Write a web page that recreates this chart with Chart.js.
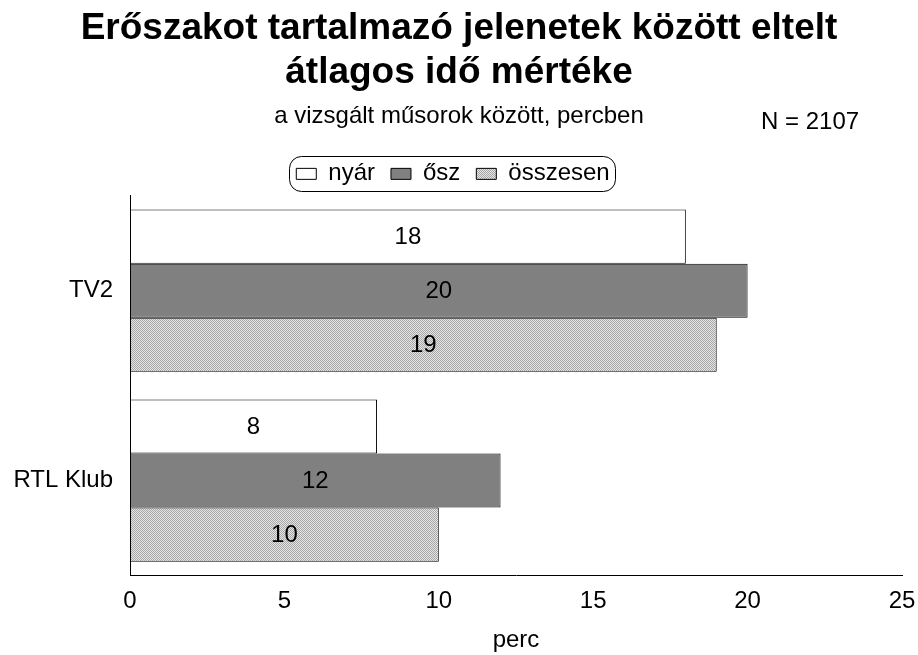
<!DOCTYPE html>
<html>
<head>
<meta charset="utf-8">
<script src="https://cdn.jsdelivr.net/npm/chart.js@4.4.1/dist/chart.umd.min.js"></script>
<style>
  html, body { margin: 0; padding: 0; background: #fff; }
  #wrap { width: 918px; height: 655px; position: relative; }
</style>
</head>
<body>
<div id="wrap"><canvas id="c" width="918" height="655"></canvas></div>
<script>
// Data
const categories = ['TV2', 'RTL Klub'];
const seriesNames = ['nyár', 'ősz', 'összesen'];
const nyar = [18, 8];
const osz = [20, 12];
const osszesen = [19, 10];
const xTicks = [0, 5, 10, 15, 20, 25];

const FONT = '"Liberation Sans", Arial, sans-serif';

// dotted fill used for "összesen"
function dotPattern() {
  const p = document.createElement('canvas');
  p.width = 2; p.height = 2;
  const g = p.getContext('2d');
  g.fillStyle = '#e6e6e6'; g.fillRect(0, 0, 2, 2);
  g.fillStyle = '#a6a6a6'; g.fillRect(0, 0, 1, 1); g.fillRect(1, 1, 1, 1);
  return g.createPattern(p, 'repeat');
}
const ctx = document.getElementById('c').getContext('2d');
const dots = dotPattern();

// legend sits a little left of the canvas centre in the original
const legendShift = {
  id: 'legendShift',
  afterLayout(chart) {
    chart.legend.left -= 6;
    chart.legend.right -= 6;
  }
};

// value labels in the middle of each bar
const barLabels = {
  id: 'barLabels',
  afterDatasetsDraw(chart) {
    const c = chart.ctx;
    c.save();
    c.font = '24px ' + FONT;
    c.fillStyle = '#000';
    c.textAlign = 'center';
    c.textBaseline = 'middle';
    chart.data.datasets.forEach(function (ds, i) {
      chart.getDatasetMeta(i).data.forEach(function (bar, j) {
        const mid = (bar.x + bar.base) / 2;
        c.fillText(String(ds.data[j]), mid, bar.y + 1);
      });
    });
    c.restore();
  }
};

// rounded frame round the legend items + "N = 2107" note
const extras = {
  id: 'extras',
  afterDraw(chart) {
    const c = chart.ctx;
    const boxes = chart.legend.legendHitBoxes;
    let l = Infinity, r = -Infinity, t = Infinity, b = -Infinity;
    boxes.forEach(function (h) {
      l = Math.min(l, h.left); r = Math.max(r, h.left + h.width);
      t = Math.min(t, h.top); b = Math.max(b, h.top + h.height);
    });
    const cy = (t + b) / 2;
    c.save();
    c.strokeStyle = '#000';
    c.lineWidth = 1;
    c.beginPath();
    c.roundRect(Math.round(l - 7) + 0.5, Math.round(cy - 17.5) + 0.5, Math.round(r - l + 13), 35, 12);
    c.stroke();
    c.font = '24px ' + FONT;
    c.fillStyle = '#000';
    c.textAlign = 'left';
    c.textBaseline = 'alphabetic';
    c.fillText('N = 2107', 761, 129);
    c.restore();
  }
};

new Chart(ctx, {
  type: 'bar',
  data: {
    labels: categories,
    datasets: [
      { label: seriesNames[0], data: nyar, backgroundColor: '#ffffff' },
      { label: seriesNames[1], data: osz, backgroundColor: '#808080' },
      { label: seriesNames[2], data: osszesen, backgroundColor: dots }
    ]
  },
  options: {
    indexAxis: 'y',
    responsive: false,
    animation: false,
    devicePixelRatio: 1,
    layout: { padding: { left: 0, right: 0, top: 7, bottom: 0 } },
    datasets: {
      bar: {
        borderColor: '#000',
        borderWidth: 1,
        borderSkipped: false,
        categoryPercentage: 0.855,
        barPercentage: 1
      }
    },
    plugins: {
      title: {
        display: true,
        text: ['Erőszakot tartalmazó jelenetek között eltelt', 'átlagos idő mértéke'],
        color: '#000',
        font: { family: FONT, size: 37, weight: 'bold', lineHeight: 1.19 },
        padding: { top: 0, bottom: 7 }
      },
      subtitle: {
        display: true,
        text: 'a vizsgált műsorok között, percben',
        color: '#000',
        font: { family: FONT, size: 24, lineHeight: 1.2 },
        padding: { top: 0, bottom: 15 }
      },
      legend: {
        position: 'top',
        align: 'center',
        labels: {
          color: '#000',
          font: { family: FONT, size: 24 },
          boxWidth: 20,
          boxHeight: 11,
          padding: 16,
          generateLabels(chart) {
            return chart.data.datasets.map(function (ds, i) {
              return {
                text: ds.label,
                fillStyle: ds.backgroundColor,
                strokeStyle: '#000',
                lineWidth: 1,
                datasetIndex: i,
                fontColor: '#000'
              };
            });
          }
        }
      },
      tooltip: { enabled: false }
    },
    scales: {
      x: {
        min: 0,
        max: 25,
        afterBuildTicks(axis) { axis.ticks = xTicks.map(function (v) { return { value: v }; }); },
        afterFit(axis) { axis.paddingRight = 16; axis.paddingLeft = 0; },
        grid: { display: false, drawTicks: false },
        border: { display: true, color: '#000', width: 1 },
        ticks: { color: '#000', font: { family: FONT, size: 24 }, padding: 12 },
        title: { display: true, text: 'perc', color: '#000', font: { family: FONT, size: 24 }, padding: { top: -2, bottom: 0 } }
      },
      y: {
        afterFit(axis) { axis.width = 130; },
        grid: { display: false, drawTicks: false },
        border: { display: true, color: '#000', width: 1 },
        ticks: { color: '#000', font: { family: FONT, size: 24 }, padding: 17 }
      }
    }
  },
  plugins: [legendShift, barLabels, extras]
});
</script>
</body>
</html>
